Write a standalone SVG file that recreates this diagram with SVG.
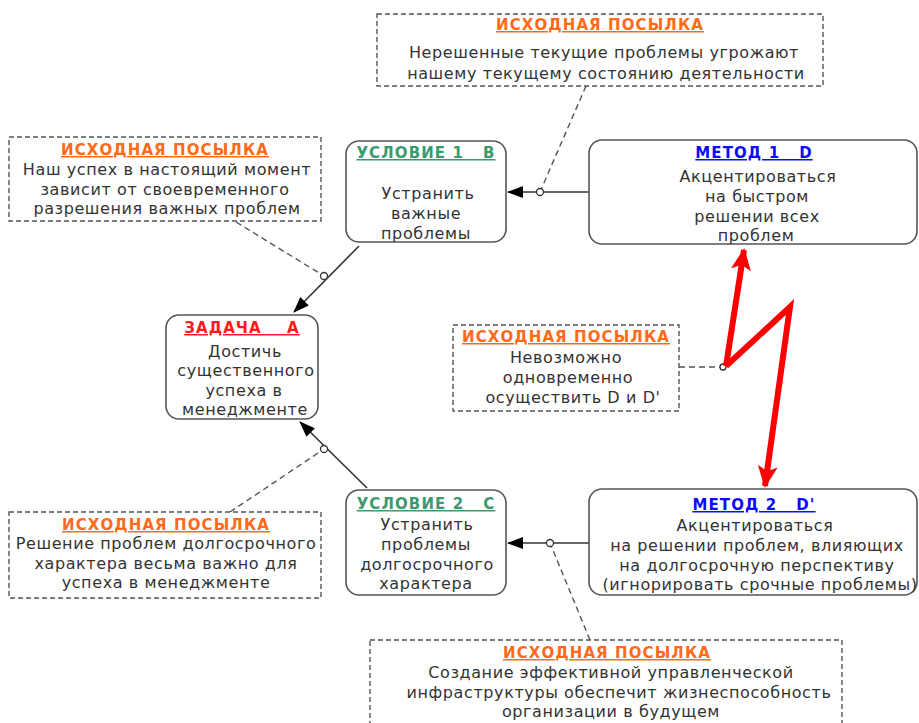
<svg xmlns="http://www.w3.org/2000/svg" width="919" height="723" viewBox="0 0 919 723">
<style>
.bg{fill:#ffffff}
.prem rect{fill:#ffffff;stroke:#555;stroke-width:1.4;stroke-dasharray:5,3}
.node rect{fill:#ffffff;stroke:#555;stroke-width:1.6}
text{font-family:"DejaVu Sans",Verdana,sans-serif;text-anchor:middle}
.t{font-size:16px;fill:#333;letter-spacing:0.6px}
.h{font-size:15px;font-weight:bold;text-decoration:underline;letter-spacing:1.1px;white-space:pre}
.or{fill:#ff6a1a}
.gr{fill:#3a9a6e}
.bl{fill:#0a0aff}
.rd{fill:#ff1a1a}
.con line{stroke:#333;stroke-width:1.6;fill:none}
.con .d{stroke:#555;stroke-dasharray:6,4;stroke-width:1.4}
.con circle{fill:#fff;stroke:#333;stroke-width:1.3}
.bolt{stroke:#ff0000;stroke-width:6;fill:none;stroke-linejoin:miter}
</style>
<defs>
<marker id="ar" viewBox="0 0 16 12" refX="15" refY="6" markerWidth="16" markerHeight="12" markerUnits="userSpaceOnUse" orient="auto">
<path d="M0,0 L16,6 L0,12 z" fill="#000"/>
</marker>
<marker id="ra" viewBox="0 0 22 20" refX="20" refY="10" markerWidth="22" markerHeight="20" markerUnits="userSpaceOnUse" orient="auto">
<path d="M0,0 L22,10 L0,20 L5,10 z" fill="#ff0000"/>
</marker>
</defs>
<rect class="bg" x="0" y="0" width="919" height="723"/>

<g id="connectors" class="con">
<line class="d" x1="586" y1="86" x2="540" y2="192"/>
<line x1="589" y1="192" x2="508" y2="192" marker-end="url(#ar)"/>
<circle cx="540" cy="192" r="3.5"/>
<line class="d" x1="236" y1="222" x2="324" y2="276"/>
<line x1="359" y1="246" x2="294" y2="312" marker-end="url(#ar)"/>
<circle cx="324" cy="276" r="3.5"/>
<line class="d" x1="230" y1="512" x2="324" y2="449"/>
<line x1="367" y1="488" x2="300" y2="422" marker-end="url(#ar)"/>
<circle cx="324" cy="449" r="3.5"/>
<line class="d" x1="590" y1="640" x2="550" y2="543"/>
<line x1="589" y1="543" x2="508" y2="543" marker-end="url(#ar)"/>
<circle cx="550" cy="543" r="3.5"/>
<line class="d" x1="679" y1="367" x2="722" y2="367"/>
<circle cx="723" cy="367" r="3"/>
<polyline class="bolt" points="726,366 790,307 765,486" marker-end="url(#ra)"/>
<polyline class="bolt" points="726,366 744,250" marker-end="url(#ra)"/>
</g>

<g id="premise-top" class="prem">
<rect x="377" y="14" width="446" height="72"/>
<text class="h or" x="600" y="30">ИСХОДНАЯ ПОСЫЛКА</text>
<text class="t" x="604" y="58">Нерешенные текущие проблемы угрожают</text>
<text class="t" x="606" y="79">нашему текущему состоянию деятельности</text>
</g>

<g id="premise-left-top" class="prem">
<rect x="9" y="137" width="312" height="84"/>
<text class="h or" x="165" y="155">ИСХОДНАЯ ПОСЫЛКА</text>
<text class="t" x="167" y="175">Наш успех в настоящий момент</text>
<text class="t" x="165" y="195">зависит от своевременного</text>
<text class="t" x="167" y="214">разрешения важных проблем</text>
</g>

<g id="cond1" class="node">
<rect x="346" y="141" width="160" height="101" rx="13"/>
<text class="h gr" x="426" y="158">УСЛОВИЕ 1   B</text>
<text class="t" x="428" y="199">Устранить</text>
<text class="t" x="426" y="219">важные</text>
<text class="t" x="426" y="239">проблемы</text>
</g>

<g id="method1" class="node">
<rect x="589" y="140" width="328" height="104" rx="13"/>
<text class="h bl" x="754" y="158">МЕТОД 1   D</text>
<text class="t" x="758" y="182">Акцентироваться</text>
<text class="t" x="757" y="202">на быстром</text>
<text class="t" x="757" y="222">решении всех</text>
<text class="t" x="756" y="241">проблем</text>
</g>

<g id="task" class="node">
<rect x="166" y="315" width="152" height="104" rx="13"/>
<text class="h rd" x="242" y="333">ЗАДАЧА    А</text>
<text class="t" x="245" y="357">Достичь</text>
<text class="t" x="246" y="376">существенного</text>
<text class="t" x="244" y="396">успеха в</text>
<text class="t" x="245" y="415">менеджменте</text>
</g>

<g id="premise-mid" class="prem">
<rect x="453" y="325" width="226" height="86"/>
<text class="h or" x="566" y="342">ИСХОДНАЯ ПОСЫЛКА</text>
<text class="t" x="566" y="363">Невозможно</text>
<text class="t" x="568" y="383">одновременно</text>
<text class="t" x="573" y="403">осуществить D и D'</text>
</g>

<g id="cond2" class="node">
<rect x="346" y="490" width="160" height="105" rx="13"/>
<text class="h gr" x="426" y="509">УСЛОВИЕ 2   C</text>
<text class="t" x="427" y="530">Устранить</text>
<text class="t" x="426" y="550">проблемы</text>
<text class="t" x="427" y="570">долгосрочного</text>
<text class="t" x="426" y="589">характера</text>
</g>

<g id="premise-left-bottom" class="prem">
<rect x="9" y="512" width="312" height="86"/>
<text class="h or" x="166" y="530">ИСХОДНАЯ ПОСЫЛКА</text>
<text class="t" x="166" y="549">Решение проблем долгосрочного</text>
<text class="t" x="166" y="569">характера весьма важно для</text>
<text class="t" x="166" y="588">успеха в менеджменте</text>
</g>

<g id="method2" class="node">
<rect x="589" y="489" width="328" height="106" rx="13"/>
<text class="h bl" x="754" y="510">МЕТОД 2   D'</text>
<text class="t" x="755" y="531">Акцентироваться</text>
<text class="t" x="757" y="551">на решении проблем, влияющих</text>
<text class="t" x="757" y="571">на долгосрочную перспективу</text>
<text class="t" x="760" y="590">(игнорировать срочные проблемы)</text>
</g>

<g id="premise-bottom" class="prem">
<rect x="370" y="640" width="472" height="95"/>
<text class="h or" x="607" y="658">ИСХОДНАЯ ПОСЫЛКА</text>
<text class="t" x="611" y="678">Создание эффективной управленческой</text>
<text class="t" x="619" y="698">инфраструктуры обеспечит жизнеспособность</text>
<text class="t" x="611" y="717">организации в будущем</text>
</g>
</svg>
